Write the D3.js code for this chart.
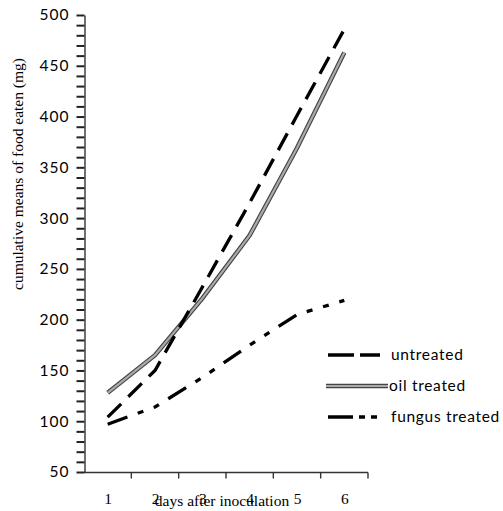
<!DOCTYPE html>
<html>
<head>
<meta charset="utf-8">
<script src="https://cdn.jsdelivr.net/npm/d3@7"></script>
<style>
  body { margin: 0; background: #fff; }
  svg { display: block; }
</style>
</head>
<body>
<script>
// data
const days = ["1", "2", "3", "4", "5", "6"];
const untreated = [104, 150, 232, 315, 401, 486];
const oilTreated = [128, 165, 221, 283, 369, 463];
const fungusTreated = [97, 114, 143, 175, 205, 219];
const yTicks = [50, 100, 150, 200, 250, 300, 350, 400, 450, 500];
const seriesNames = ["untreated", "oil treated", "fungus treated"];

const width = 503, height = 511;

const svg = d3.select("body").append("svg")
    .attr("width", width)
    .attr("height", height);

const x = d3.scaleBand()
    .domain(days)
    .range([84, 368]);

const y = d3.scaleLinear()
    .domain([50, 500])
    .range([472, 15]);

// y axis: minor ticks every 10, labels every 50
const yAxis = d3.axisLeft(y)
    .tickValues(d3.range(50, 501, 10))
    .tickSizeInner(8)
    .tickSizeOuter(0)
    .tickPadding(7)
    .tickFormat(d => yTicks.includes(d) ? d : "");

const gy = svg.append("g")
    .attr("class", "yaxis")
    .attr("transform", "translate(84.5,0)")
    .call(yAxis);
gy.selectAll(".tick line")
    .attr("stroke", "#222")
    .attr("stroke-width", 2);
gy.select(".domain")
    .attr("stroke", "#333")
    .attr("stroke-width", 1.4);
gy.selectAll(".tick text")
    .style("font-family", "Lato, 'Open Sans', sans-serif")
    .style("font-size", "15.5px")
    .style("letter-spacing", "1px")
    .attr("fill", "#000");

// x axis: ticks at the band edges, labels centered
const gx = svg.append("g")
    .attr("transform", "translate(0,472.5)");
gx.append("line")
    .attr("x1", x.range()[0]).attr("x2", x.range()[1])
    .attr("stroke", "#333").attr("stroke-width", 1.4);
gx.selectAll("line.tk")
    .data(days)
    .enter().append("line")
    .attr("class", "tk")
    .attr("x1", d => x(d) + x.step())
    .attr("x2", d => x(d) + x.step())
    .attr("y1", 0).attr("y2", 6)
    .attr("stroke", "#333").attr("stroke-width", 1.4);
gx.selectAll("text.lbl")
    .data(days)
    .enter().append("text")
    .attr("class", "lbl")
    .attr("x", d => x(d) + x.bandwidth() / 2 + 0.5)
    .attr("y", 31)
    .attr("text-anchor", "middle")
    .style("font-family", "'Liberation Serif', serif")
    .style("font-size", "15.5px")
    .text(d => d);

// axis titles
svg.append("text")
    .attr("x", 222)
    .attr("y", 506)
    .attr("text-anchor", "middle")
    .style("font-family", "'Liberation Serif', serif")
    .style("font-size", "15.5px")
    .text("days after inoculation");

svg.append("text")
    .attr("transform", "translate(23,174) rotate(-90)")
    .attr("text-anchor", "middle")
    .style("font-family", "'Liberation Serif', serif")
    .style("font-size", "15.5px")
    .text("cumulative means of food eaten (mg)");

const line = d3.line()
    .x((d, i) => x(days[i]) + x.bandwidth() / 2)
    .y(d => y(d));

// oil treated: hatched grey double line look
svg.append("path")
    .datum(oilTreated)
    .attr("d", line)
    .attr("fill", "none")
    .attr("stroke", "#444")
    .attr("stroke-width", 4.5);
svg.append("path")
    .datum(oilTreated)
    .attr("d", line)
    .attr("fill", "none")
    .attr("stroke", "#aaa")
    .attr("stroke-width", 2.2);

svg.append("path")
    .datum(untreated)
    .attr("d", line)
    .attr("fill", "none")
    .attr("stroke", "#000")
    .attr("stroke-width", 3.3)
    .attr("stroke-dasharray", "19,10");

svg.append("path")
    .datum(fungusTreated)
    .attr("d", line)
    .attr("fill", "none")
    .attr("stroke", "#000")
    .attr("stroke-width", 3.3)
    .attr("stroke-dasharray", "21,11,6,11,6,11");

// legend
const legend = svg.append("g");
const ly = [355, 386, 417];

legend.append("line")
    .attr("x1", 328).attr("x2", 380).attr("y1", ly[0]).attr("y2", ly[0])
    .attr("stroke", "#000").attr("stroke-width", 3.3)
    .attr("stroke-dasharray", "26,6");
legend.append("line")
    .attr("x1", 326).attr("x2", 388).attr("y1", ly[1]).attr("y2", ly[1])
    .attr("stroke", "#444").attr("stroke-width", 4.5);
legend.append("line")
    .attr("x1", 326).attr("x2", 388).attr("y1", ly[1]).attr("y2", ly[1])
    .attr("stroke", "#aaa").attr("stroke-width", 2.2);
legend.append("line")
    .attr("x1", 328).attr("x2", 383).attr("y1", ly[2]).attr("y2", ly[2])
    .attr("stroke", "#000").attr("stroke-width", 3.3)
    .attr("stroke-dasharray", "25,6,6,6,6,30");

legend.selectAll("text")
    .data(seriesNames)
    .enter().append("text")
    .attr("x", (d, i) => i === 1 ? 389 : 391)
    .attr("y", (d, i) => ly[i])
    .attr("dy", "0.35em")
    .style("font-family", "Lato, 'Open Sans', sans-serif")
    .style("font-size", "15.5px")
    .style("letter-spacing", "0.7px")
    .attr("fill", "#000")
    .text(d => d);
</script>
</body>
</html>
